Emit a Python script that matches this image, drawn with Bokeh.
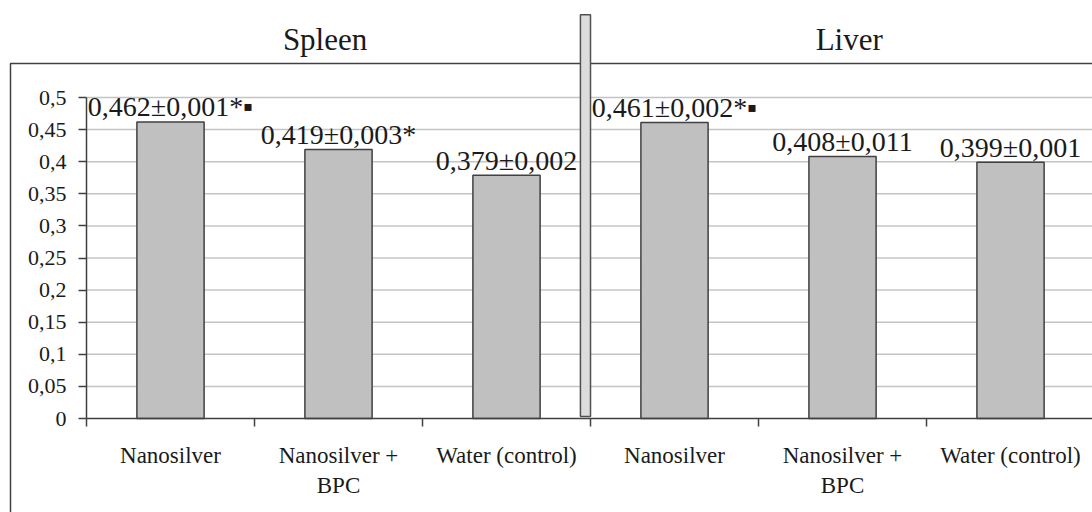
from bokeh.plotting import figure
from bokeh.models import FixedTicker, Range1d, ColumnDataSource
from bokeh.core.properties import value
from bokeh.embed import file_html
from bokeh.resources import INLINE
import numpy as np

# ---- data ----
organs = ["Spleen", "Liver"]
groups = ["Nanosilver", "Nanosilver +\nBPC", "Water (control)"]
values = [0.462, 0.419, 0.379, 0.461, 0.408, 0.399]
value_labels = ["0,462±0,001*▪", "0,419±0,003*", "0,379±0,002",
                "0,461±0,002*▪", "0,408±0,011", "0,399±0,001"]
y_ticks = [0, 0.05, 0.1, 0.15, 0.2, 0.25, 0.3, 0.35, 0.4, 0.45, 0.5]
y_tick_labels = ["0", "0,05", "0,1", "0,15", "0,2", "0,25", "0,3", "0,35", "0,4", "0,45", "0,5"]

categories = [g for _ in organs for g in groups]
n = len(categories)
xc = np.arange(n) + 0.5

FONT = "Liberation Serif"
DARK = "#404040"

src = ColumnDataSource(dict(x=xc, top=values, label=value_labels))

# frame covers the whole canvas; axes are pinned with fixed_location
p = figure(width=1092, height=512, x_range=Range1d(-0.5119, 5.988), y_range=Range1d(-0.1464, 0.6511),
           output_backend="svg", toolbar_location=None,
           min_border_left=0, min_border_right=0, min_border_top=0, min_border_bottom=0)
p.title = None
p.outline_line_color = None
p.background_fill_color = "white"
p.border_fill_color = "white"
p.xgrid.visible = False
p.ygrid.visible = False

# horizontal gridlines (plot area only)
p.segment(x0=0, x1=6.5, y0=y_ticks[1:], y1=y_ticks[1:], line_color="#c4c4c4", line_width=1.5)

# outer box (extends past the right and bottom edges of the picture)
p.line(x=[6.5, -0.4524, -0.4524], y=[0.553, 0.553, -0.3], line_color=DARK, line_width=1.5)

# bars
p.vbar(x="x", top="top", width=0.4, bottom=0, source=src,
       fill_color="#c0c0c0", line_color=DARK, line_width=1.5)

# value labels
p.text(x="x", y="top", text="label", source=src, text_font=value(FONT),
       text_font_size="28px", text_align="center", text_baseline="alphabetic",
       y_offset=-15, text_color="#1a1a1a")

# panel titles
p.text(x=[1.42, 4.54], y=[0.590, 0.590], text=organs, text_font=value(FONT),
       text_font_size="31px", text_align="center", text_baseline="alphabetic",
       text_color="#1a1a1a")

# separator between the two panels
p.quad(left=2.94, right=3.0, bottom=0.003, top=0.629,
       fill_color="#dcdcdc", line_color="#505050", line_width=1.5)

# x axis
xa = p.xaxis[0]
xa.fixed_location = 0
xa.bounds = (0, 6.5)
xa.ticker = FixedTicker(ticks=list(xc), minor_ticks=list(range(n + 1)))
xa.major_label_overrides = {float(x): c for x, c in zip(xc, categories)}
xa.major_tick_line_color = None
xa.major_tick_out = 0
xa.minor_tick_out = 8
xa.minor_tick_in = 0
xa.minor_tick_line_color = DARK
xa.minor_tick_line_width = 1.5
xa.axis_line_color = DARK
xa.axis_line_width = 1.5
xa.major_label_text_font = FONT
xa.major_label_text_font_size = "23px"
xa.major_label_text_color = "#1a1a1a"
xa.major_label_standoff = 16

# y axis
ya = p.yaxis[0]
ya.fixed_location = 0
ya.ticker = FixedTicker(ticks=y_ticks)
ya.bounds = (0, 0.5)
ya.major_label_overrides = {t: l for t, l in zip(y_ticks, y_tick_labels)}
ya.major_tick_out = 8
ya.major_tick_in = 0
ya.major_tick_line_color = DARK
ya.major_tick_line_width = 1.5
ya.minor_tick_line_color = None
ya.axis_line_color = DARK
ya.axis_line_width = 1.5
ya.major_label_text_font = FONT
ya.major_label_text_font_size = "22px"
ya.major_label_text_color = "#1a1a1a"
ya.major_label_standoff = 12

open("out.html", "w").write(file_html(p, INLINE))
